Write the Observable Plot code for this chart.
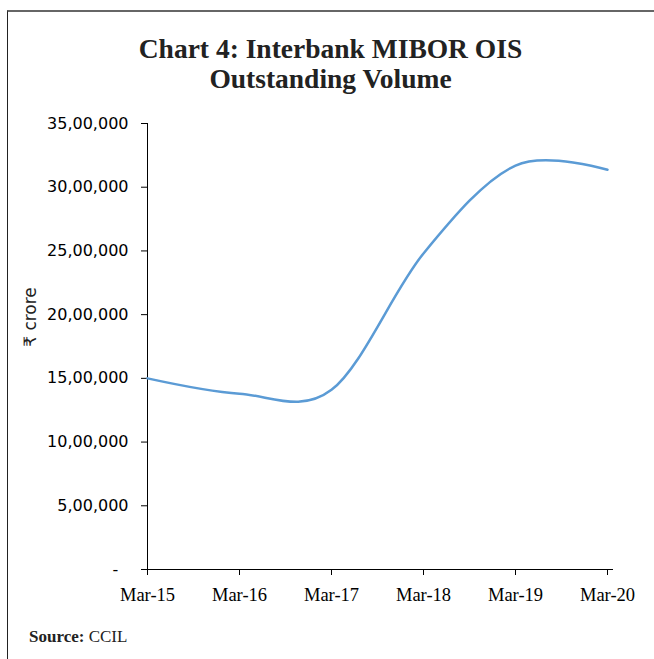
<!DOCTYPE html>
<html><head><meta charset="utf-8">
<script src="https://cdn.jsdelivr.net/npm/d3@7"></script>
<script src="https://cdn.jsdelivr.net/npm/@observablehq/plot@0.6"></script>
<style>
body{margin:0;background:#fff;}
#wrap{position:relative;width:654px;height:659px;overflow:hidden;background:#fff;}
#frame{position:absolute;left:7px;top:10px;right:-5px;bottom:-5px;border-top:2px solid #666;border-left:1.5px solid #222;}
#title{position:absolute;left:7px;width:647px;top:34px;text-align:center;font:bold 27.5px "Liberation Serif",serif;line-height:30px;color:#222;}
#ylab{position:absolute;left:30px;top:317px;transform:translate(-50%,-50%) rotate(-90deg);font:17px "DejaVu Sans",sans-serif;color:#222;white-space:nowrap;}
#source{position:absolute;left:29px;top:627px;font:17px "Liberation Serif",serif;line-height:20px;color:#222;}
#chart{position:absolute;left:0;top:0;}
</style></head>
<body>
<div id="wrap">
  <div id="frame"></div>
  <div id="chart"></div>
  <div id="title">Chart 4: Interbank MIBOR OIS<br>Outstanding Volume</div>
  <div id="ylab">₹ crore</div>
  <div id="source"><b>Source:</b> CCIL</div>
</div>
<script>
const months = ["Mar-15","Mar-16","Mar-17","Mar-18","Mar-19","Mar-20"];
const volumes = [1500000, 1380000, 1410000, 2480000, 3170000, 3137000];
const yTicks = [0, 500000, 1000000, 1500000, 2000000, 2500000, 3000000, 3500000];

const data = months.map((m, i) => ({month: m, value: volumes[i]}));

function indianFormat(v) {
  if (v === 0) return "-\u00a0\u00a0";
  const s = String(Math.round(v));
  if (s.length <= 3) return s;
  const last3 = s.slice(-3);
  const rest = s.slice(0, -3).replace(/\B(?=(\d{2})+(?!\d))/g, ",");
  return rest + "," + last3;
}

const chart = Plot.plot({
  width: 654,
  height: 659,
  marginTop: 123,
  marginBottom: 90,
  marginLeft: 147,
  marginRight: 41,
  style: {background: "none", color: "#000", overflow: "visible"},
  x: {type: "point", domain: months, range: [147, 607], padding: 0},
  y: {domain: [0, 3500000], range: [569, 123]},
  marks: [
    Plot.axisY({ticks: yTicks, tickSize: 6, tickPadding: 13, tickFormat: indianFormat,
      fontFamily: "DejaVu Sans", fontSize: 16, label: null}),
    Plot.frame({anchor: "left", stroke: "#000"}),
    Plot.ruleY([0], {stroke: "#000"}),
    Plot.axisX({tickSize: 6, tickPadding: 12, fontFamily: "Liberation Serif", fontSize: 18.5, label: null}),
    Plot.line(data, {x: "month", y: "value", curve: "cardinal", stroke: "#5B9BD5", strokeWidth: 2.5})
  ]
});
document.getElementById("chart").appendChild(chart);
</script>
</body></html>
